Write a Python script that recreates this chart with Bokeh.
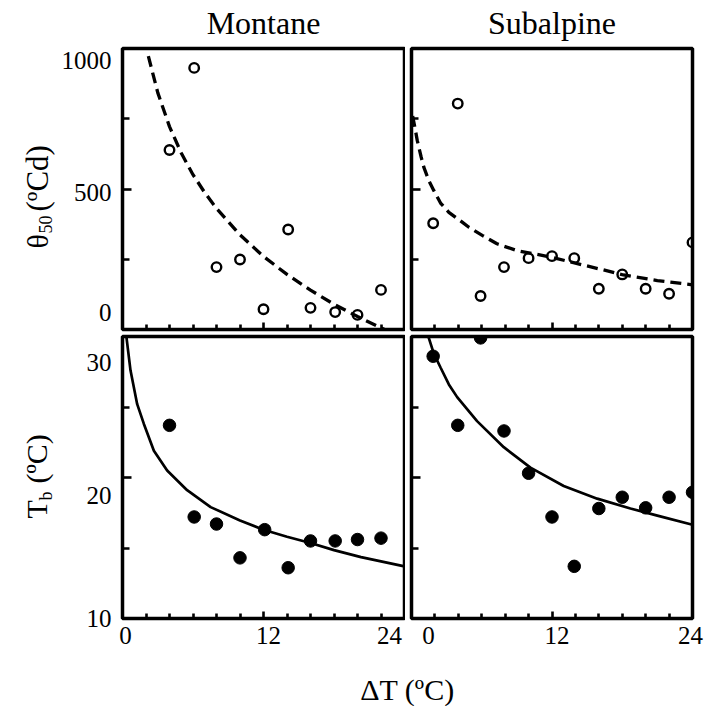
import math
from bokeh.plotting import figure
from bokeh.layouts import column, row
from bokeh.models import Label, FixedTicker, LinearAxis
from bokeh.embed import file_html
from bokeh.resources import INLINE

FONT = "Liberation Serif"

# ---------------- data ----------------
panel_titles = ["Montane", "Subalpine"]
dt_ticks = [0, 12, 24]
dt_minor = [2, 4, 6, 8, 10, 14, 16, 18, 20, 22]
theta_ticks = [0, 500, 1000]
theta_minor = [250, 750]
tb_ticks = [10, 20, 30]
tb_minor = [15, 25]

# Montane, theta50 (open circles) and fitted dashed curve
mon_theta_dt = [4, 6.1, 8, 10, 12, 14.1, 16, 18.1, 20, 22]
mon_theta = [639, 931, 222, 249, 72, 356, 77, 62, 52, 141]
mon_theta_fit_dt = [2.2, 3, 4, 5, 6, 7, 8, 10, 12, 14, 16, 18, 20, 22, 22.9]
mon_theta_fit = [973, 843, 722, 628, 551, 487, 431, 337, 260, 196, 140, 90, 46, 6, -12]

# Subalpine, theta50
sub_theta_dt = [1.85, 3.95, 5.9, 7.9, 10, 12, 13.9, 16, 18, 20, 22, 24]
sub_theta = [378, 804, 119, 222, 254, 261, 254, 145, 196, 145, 127, 310]
sub_theta_fit_dt = [0.1, 0.34, 0.49, 0.83, 1.05, 1.48, 1.9, 2.48, 3.19, 4.33, 4.9,
                    6.04, 7.3, 9.0, 12.0, 14.0, 16.4, 18.1, 21.0, 24.0]
sub_theta_fit = [760, 708, 673, 613, 578, 530, 495, 450, 417, 382, 364,
                 335, 305, 281, 257, 236, 212, 194, 174, 159]

# Montane, Tb (filled circles) and fitted solid curve
mon_tb_dt = [4, 6.1, 8, 10, 12.1, 14.1, 16, 18.1, 20, 22]
mon_tb = [23.7, 17.2, 16.7, 14.3, 16.3, 13.6, 15.5, 15.5, 15.6, 15.7]
mon_tb_fit_dt = [0.3, 0.68, 1.25, 1.82, 2.67, 3.8, 5.5, 7.5, 10, 12, 14, 16, 18, 20.3, 24]
mon_tb_fit = [30.2, 27.6, 25.2, 23.8, 21.9, 20.5, 19.1, 17.9, 16.95, 16.3, 15.8, 15.35,
              14.85, 14.35, 13.7]

# Subalpine, Tb
sub_tb_dt = [1.85, 3.95, 5.9, 7.9, 10, 12, 13.9, 16, 18, 20, 22, 24]
sub_tb = [28.6, 23.7, 29.9, 23.3, 20.3, 17.2, 13.7, 17.8, 18.6, 17.85, 18.6, 18.95]
sub_tb_fit_dt = [1.4, 1.9, 2.48, 3.19, 3.9, 5.6, 7.88, 10.16, 13, 15.86, 18.7, 21, 24]
sub_tb_fit = [30.1, 28.8, 27.8, 26.6, 25.7, 24.0, 22.15, 20.7, 19.4, 18.5, 17.8, 17.3, 16.65]

# ---------------- layout constants (pixels) ----------------
STRIP_W = 55
TOP_H, ROW1_BB = 48, 3
ROW2_BT, ROW2_BB = 4, 50
FW_L, FW_R = 282, 281
FH_T, FH_B = 281, 282
PL_L = 122 - STRIP_W
GAP_L, GAP_R, RIGHT_M = 1, 6, 12
XSTRIP_H = 706 - (TOP_H + FH_T + ROW1_BB) - (ROW2_BT + FH_B + ROW2_BB)


# ---------------- helpers ----------------
def style_axis(ax, minor_in):
    ax.axis_line_color = None
    ax.major_tick_out = 0
    ax.minor_tick_out = 0
    ax.major_tick_in = 0
    ax.minor_tick_in = minor_in
    ax.minor_tick_line_width = 2.6
    ax.minor_tick_line_color = "black"
    ax.major_label_standoff = 0


def label_axis(ticks, texts, size, standoff):
    ax = LinearAxis(ticker=FixedTicker(ticks=ticks, minor_ticks=[]))
    ax.axis_line_color = None
    ax.major_tick_in = 0
    ax.major_tick_out = 0
    ax.minor_tick_in = 0
    ax.minor_tick_out = 0
    ax.major_label_overrides = {t: s for t, s in zip(ticks, texts)}
    ax.major_label_text_font = FONT
    ax.major_label_text_font_size = size
    ax.major_label_text_color = "black"
    ax.major_label_standoff = standoff
    return ax


def make_panel(y_rng, y_ticks, y_minor, fw, fh, bl, br, bt, bb):
    p = figure(x_range=(0, 24), y_range=y_rng, frame_width=fw, frame_height=fh,
               min_border_left=bl, min_border_right=br, min_border_top=bt,
               min_border_bottom=bb, output_backend="svg", toolbar_location=None,
               background_fill_color="white", border_fill_color="white")
    p.xgrid.visible = False
    p.ygrid.visible = False
    p.outline_line_color = "black"
    p.outline_line_width = 3.5
    p.xaxis.ticker = FixedTicker(ticks=[], minor_ticks=dt_minor)
    p.yaxis.ticker = FixedTicker(ticks=[], minor_ticks=y_minor)
    style_axis(p.xaxis[0], 5)
    style_axis(p.yaxis[0], 7)
    xa = LinearAxis(ticker=FixedTicker(ticks=[], minor_ticks=[dt_ticks[1]]))
    ya = LinearAxis(ticker=FixedTicker(ticks=[], minor_ticks=[y_ticks[1]]))
    style_axis(xa, 7)
    style_axis(ya, 9)
    p.add_layout(xa, "below")
    p.add_layout(ya, "left")
    return p


def strip(fw, fh, bl, br, bt, bb, y_rng=(0, 1)):
    s = figure(x_range=(0, 1), y_range=y_rng, frame_width=fw, frame_height=fh,
               min_border_left=bl, min_border_right=br, min_border_top=bt,
               min_border_bottom=bb, output_backend="svg", toolbar_location=None,
               x_axis_location=None, y_axis_location=None,
               background_fill_color="white", border_fill_color="white")
    s.xgrid.visible = False
    s.ygrid.visible = False
    s.outline_line_color = None
    return s


def txt(p, text, x, y, xo=0, yo=0, size="30px", align="left", base="alphabetic", angle=0.0):
    p.add_layout(Label(x=x, y=y, x_offset=xo, y_offset=yo, text=text,
                       text_font=FONT, text_font_size=size, text_color="black",
                       text_align=align, text_baseline=base, angle=angle))


def nudged(ticks, px, px_per_unit):
    return [round(t + d / px_per_unit, 2) for t, d in zip(ticks, px)]


# ---------------- panels ----------------
tl = make_panel((0, 1000), theta_ticks, theta_minor, FW_L, FH_T, PL_L, GAP_L, TOP_H, ROW1_BB)
tr = make_panel((0, 1000), theta_ticks, theta_minor, FW_R, FH_T, GAP_R, RIGHT_M, TOP_H, ROW1_BB)
bl = make_panel((10, 30), tb_ticks, tb_minor, FW_L, FH_B, PL_L, GAP_L, ROW2_BT, ROW2_BB)
br = make_panel((10, 30), tb_ticks, tb_minor, FW_R, FH_B, GAP_R, RIGHT_M, ROW2_BT, ROW2_BB)

# top: theta50
tl.line(mon_theta_fit_dt, mon_theta_fit, line_color="black", line_width=3.3,
        line_dash="11 6")
tl.scatter(mon_theta_dt, mon_theta, marker="circle", size=9.5, fill_color=None,
           line_color="black", line_width=2.4)
tr.line(sub_theta_fit_dt, sub_theta_fit, line_color="black", line_width=3.3,
        line_dash="11 6")
tr.scatter(sub_theta_dt, sub_theta, marker="circle", size=9.5, fill_color=None,
           line_color="black", line_width=2.4)

# bottom: Tb
bl.line(mon_tb_fit_dt, mon_tb_fit, line_color="black", line_width=2.7)
bl.scatter(mon_tb_dt, mon_tb, marker="circle", size=12.5, fill_color="black",
           line_color="black")
br.line(sub_tb_fit_dt, sub_tb_fit, line_color="black", line_width=2.7)
br.scatter(sub_tb_dt, sub_tb, marker="circle", size=12.5, fill_color="black",
           line_color="black")

# panel titles (as single labels of an upper axis)
for p, t in zip((tl, tr), panel_titles):
    p.add_layout(label_axis([dt_ticks[1]], [t], "32px", 8), "above")

# y tick labels, nudged inward like the original
tl.add_layout(label_axis(nudged(theta_ticks, [17, -3, -12], FH_T / 1000),
                         [str(v) for v in theta_ticks], "25px", 11), "left")
bl.add_layout(label_axis(nudged(tb_ticks, [0, -18, -26], FH_B / 20),
                         [str(v) for v in tb_ticks], "25px", 11), "left")
# x tick labels
bl.add_layout(label_axis(nudged(dt_ticks, [3, 5, -15], FW_L / 24),
                         [str(v) for v in dt_ticks], "25px", 8), "below")
br.add_layout(label_axis(nudged(dt_ticks, [17, 5, -2], FW_R / 24),
                         [str(v) for v in dt_ticks], "25px", 8), "below")

# ---------------- text strips ----------------
ys_top = strip(STRIP_W, FH_T, 0, 0, TOP_H, ROW1_BB, y_rng=(0, 1000))
ys_bot = strip(STRIP_W, FH_B, 0, 0, ROW2_BT, ROW2_BB, y_rng=(10, 30))
rot = math.pi / 2
txt(ys_top, "θ", 0, theta_ticks[0], xo=37, yo=81, angle=rot)
txt(ys_top, "50", 0, theta_ticks[0], xo=45, yo=96, size="18px", angle=rot)
txt(ys_top, "(ºCd)", 0, theta_ticks[0], xo=37, yo=118, size="31px", angle=rot)
txt(ys_bot, "T", 0, tb_ticks[0], xo=36, yo=100, angle=rot)
txt(ys_bot, "b", 0, tb_ticks[0], xo=45, yo=118, size="18px", angle=rot)
txt(ys_bot, "(ºC)", 0, tb_ticks[0], xo=36, yo=135, angle=rot)

xs = strip(FW_L + GAP_L + GAP_R + FW_R, XSTRIP_H, 122, RIGHT_M, 0, 0)
txt(xs, "ΔT (ºC)", 0.5, 0, yo=706 - 689, align="center")

layout = column(row(ys_top, tl, tr), row(ys_bot, bl, br), xs)

open("out.html", "w").write(file_html(layout, INLINE))
